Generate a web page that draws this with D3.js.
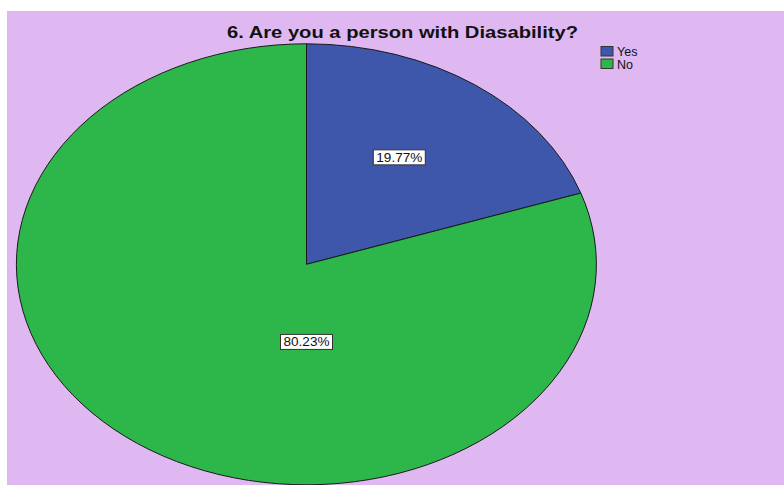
<!DOCTYPE html>
<html>
<head>
    <meta charset="utf-8">
    <title>6. Are you a person with Diasability?</title>
    <style>
        body{ margin: 0; background: #ffffff; }
        svg{ display: block; }
    </style>
    <script src="https://d3js.org/d3.v7.min.js"></script>
</head>
<body>
    <svg width="784" height="485"></svg>

    <script>
        // data
        var categories = ["Yes", "No"];
        var percents = [19.77, 80.23];
        var colors = ["#3e57aa", "#2db64a"];

        var svg = d3.select("svg");
        var W = 784, H = 485;
        var font = "Liberation Sans, Arial, sans-serif";

        // purple chart area
        svg.append("rect")
            .attr("x", 7).attr("y", 11)
            .attr("width", W - 7).attr("height", H - 11)
            .attr("fill", "#dfb8f1");

        // title (the original is a bit stretched sideways)
        svg.append("text")
            .attr("x", 227).attr("y", 38)
            .attr("textLength", 351)
            .attr("lengthAdjust", "spacingAndGlyphs")
            .style("font-family", font)
            .style("font-weight", "bold")
            .style("font-size", "16px")
            .attr("fill", "#111")
            .text("6. Are you a person with Diasability?");

        // pie is an ellipse: unit circle scaled
        var cx = 306.5, cy = 264.3, rx = 290, ry = 220.5;
        var pie = d3.pie().sort(null).value(function(d){ return d; });
        var arcs = pie(percents);
        var arc = d3.arc().innerRadius(0).outerRadius(1);

        var g = svg.append("g")
            .attr("transform", "translate(" + cx + "," + cy + ") scale(" + rx + "," + ry + ")");

        g.selectAll("path")
            .data(arcs)
            .enter().append("path")
            .attr("d", arc)
            .attr("fill", function(d, i){ return colors[i]; })
            .attr("stroke", "#1a1a1a")
            .attr("stroke-width", 1)
            .attr("vector-effect", "non-scaling-stroke");

        // label anchors, in pie radii from the centre (SPSS puts them where it likes)
        var labelAt = [[0.32, -0.485], [0.0, 0.352]];

        var labels = svg.selectAll("g.lbl")
            .data(arcs)
            .enter().append("g")
            .attr("class", "lbl")
            .attr("transform", function(d, i){
                return "translate(" + (cx + labelAt[i][0] * rx) + "," + (cy + labelAt[i][1] * ry) + ")";
            });

        labels.append("text")
            .attr("text-anchor", "middle")
            .attr("dy", "0.36em")
            .attr("textLength", 46)
            .attr("lengthAdjust", "spacingAndGlyphs")
            .style("font-family", font)
            .style("font-size", "12.5px")
            .attr("fill", "#111")
            .text(function(d, i){ return percents[i].toFixed(2) + "%"; });

        labels.each(function(){
            var t = d3.select(this).select("text");
            var b = t.node().getBBox();
            d3.select(this).insert("rect", "text")
                .attr("x", -26).attr("y", b.y - 1)
                .attr("width", 52).attr("height", b.height + 1)
                .attr("fill", "#ffffff")
                .attr("stroke", "#333")
                .attr("stroke-width", 1);
        });

        // legend
        var leg = svg.selectAll("g.leg")
            .data(categories)
            .enter().append("g")
            .attr("class", "leg")
            .attr("transform", function(d, i){ return "translate(601," + (46.5 + i * 12.5) + ")"; });

        leg.append("rect")
            .attr("width", 12).attr("height", 9.5)
            .attr("fill", function(d, i){ return colors[i]; })
            .attr("stroke", "#333")
            .attr("stroke-width", 1);

        leg.append("text")
            .attr("x", 16).attr("y", 9.5)
            .style("font-family", font)
            .style("font-size", "12.5px")
            .attr("fill", "#111")
            .text(function(d){ return d; });
    </script>
</body>
</html>
